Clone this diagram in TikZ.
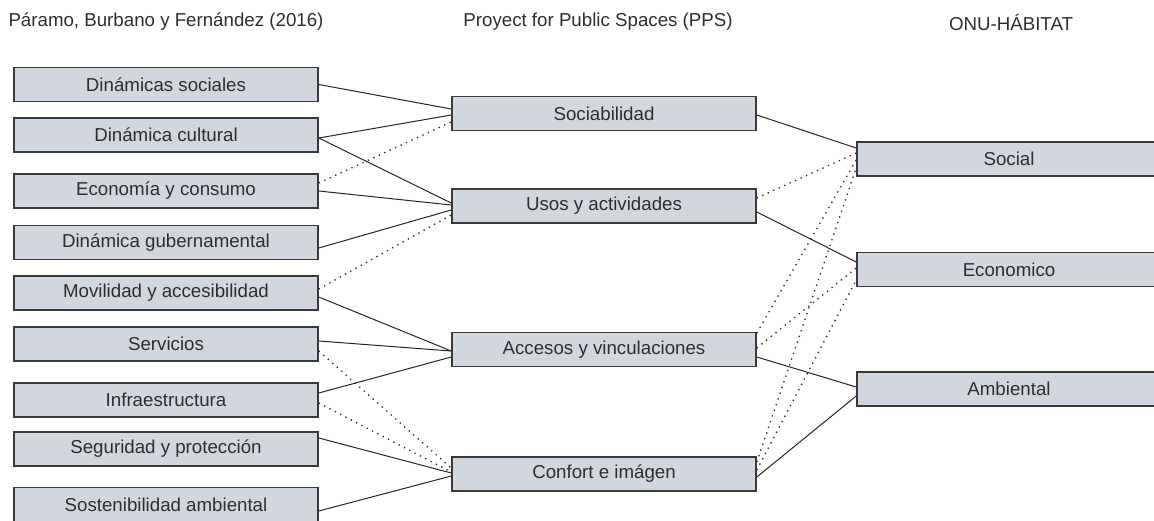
\documentclass[tikz,border=0pt]{standalone}
\usepackage{fontspec}
\setmainfont{Liberation Sans}
\definecolor{boxfill}{HTML}{D2D6DD}
\definecolor{boxline}{HTML}{3A3A3A}
\definecolor{txt}{HTML}{2E2E2E}
\tikzset{
  box/.style={draw=boxline,line width=0.8pt,fill=boxfill,minimum width=152pt,minimum height=16.9pt,inner sep=0pt,text=txt,font=\fontsize{9.35}{11}\selectfont},
  heading/.style={text=txt,font=\fontsize{9.35}{11}\selectfont},
  link/.style={draw=black!85,line width=0.5pt},
  weak/.style={link,line width=0.65pt,dash pattern=on 0.65pt off 2.35pt}
}
\begin{document}
\begin{tikzpicture}[x=0.5pt,y=-0.5pt]
\clip (0,0) rectangle (1154,520);
\fill[white] (0,0) rectangle (1154,520);
\node[heading] at (166,22) (t1) {Páramo, Burbano y Fernández (2016)};
\node[heading] at (598,22) (t2) {Proyect for Public Spaces (PPS)};
\node[heading] at (1011,22) (t3) {ONU-HÁBITAT};
\node[box] at (166,84.5) (l1) {Dinámicas sociales};
\node[box] at (166,135) (l2) {Dinámica cultural};
\node[box] at (166,191) (l3) {Economía y consumo};
\node[box] at (166,242.5) (l4) {Dinámica gubernamental};
\node[box] at (166,293) (l5) {Movilidad y accesibilidad};
\node[box] at (166,344) (l6) {Servicios};
\node[box] at (166,400) (l7) {Infraestructura};
\node[box] at (166,449) (l8) {Seguridad y protección};
\node[box] at (166,504.5) (l9) {Sostenibilidad ambiental};
\node[box] at (604,113.5) (soc) {Sociabilidad};
\node[box] at (604,206) (usos) {Usos y actividades};
\node[box] at (604,349.5) (acc) {Accesos y vinculaciones};
\node[box] at (604,474) (conf) {Confort e imágen};
\node[box] at (1009,159) (social) {Social};
\node[box] at (1009,269.5) (econ) {Economico};
\node[box] at (1009,389) (amb) {Ambiental};
\draw[link] (l1.east) -- ([yshift=2.25pt]soc.west);
\draw[link] ([yshift=-1.5pt]l2.east) -- ([yshift=-0.75pt]soc.west);
\draw[link] ([yshift=-1.5pt]l2.east) -- ([yshift=1.5pt]usos.west);
\draw[weak] ([yshift=4pt]l3.east) -- ([yshift=-4.25pt]soc.west);
\draw[link] (l3.east) -- ([yshift=0.5pt]usos.west);
\draw[link] ([yshift=-2.75pt]l4.east) -- ([yshift=-2pt]usos.west);
\draw[weak] ([yshift=2pt]l5.east) -- ([yshift=-4.5pt]usos.west);
\draw[link] ([yshift=-2pt]l5.east) -- ([yshift=-0.75pt]acc.west);
\draw[link] ([yshift=1.5pt]l6.east) -- ([yshift=-0.75pt]acc.west);
\draw[weak] ([yshift=-3.5pt]l6.east) -- ([yshift=3pt]conf.west);
\draw[link] ([yshift=3.5pt]l7.east) -- ([yshift=-3.75pt]acc.west);
\draw[weak] ([yshift=-1.5pt]l7.east) -- ([yshift=1pt]conf.west);
\draw[link] ([yshift=5.5pt]l8.east) -- ([yshift=0.5pt]conf.west);
\draw[link] ([yshift=-3.25pt]l9.east) -- ([yshift=-1pt]conf.west);
\draw[link] ([yshift=-0.75pt]soc.east) -- ([yshift=5.5pt]social.west);
\draw[weak] ([yshift=4pt]usos.east) -- ([yshift=3pt]social.west);
\draw[link] ([yshift=-3pt]usos.east) -- ([yshift=3.75pt]econ.west);
\draw[weak] ([yshift=8.25pt]acc.east) -- ([yshift=-0.5pt]social.west);
\draw[weak] ([yshift=0.75pt]acc.east) -- ([yshift=0.75pt]econ.west);
\draw[link] ([yshift=-3.75pt]acc.east) -- ([yshift=1pt]amb.west);
\draw[weak] ([yshift=6pt]conf.east) -- ([yshift=-4.5pt]social.west);
\draw[weak] ([yshift=2pt]conf.east) -- ([yshift=-5.25pt]econ.west);
\draw[link] ([yshift=-1.5pt]conf.east) -- ([yshift=-3.5pt]amb.west);
\end{tikzpicture}
\end{document}
